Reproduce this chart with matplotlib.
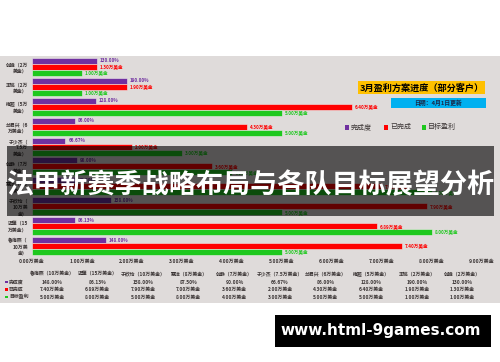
import matplotlib
matplotlib.use('Agg')
import matplotlib.pyplot as plt
from matplotlib.patches import Rectangle
import numpy as np

plt.rcParams['font.family'] = ['Noto Sans CJK SC', 'DejaVu Sans']

# chart order, top to bottom
names = ['创峰', '丰铭', '梅超', '兰君兴', '于少杰', '创静', '慧洋', '于欣怡', '迈肇', '鲁海燕']
budgets = ['2', '2', '5', '6', '7.5', '7', '8', '10', '15', '10']
completion = [130.00, 190.00, 128.00, 86.00, 66.67, 90.00, 87.50, 158.00, 86.13, 148.00]
done = [1.30, 1.90, 6.40, 4.30, 2.00, 3.60, 7.00, 7.90, 6.89, 7.40]
target = [1.00, 1.00, 5.00, 5.00, 3.00, 4.00, 8.00, 5.00, 8.00, 5.00]
xticks = [0, 1, 2, 3, 4, 5, 6, 7, 8, 9]

title = '法甲新赛季战略布局与各队目标展望分析'
box_title = '3月盈利方案进度（部分客户）'
box_date = '日期：4月1日更新'
series_names = ['完成度', '已完成', '目标盈利']
site = 'www.html-9games.com'

purple = '#7030a0'
red = '#ff0000'
green = '#1ec81e'
panel = '#dfdbda'
ink = '#3a3434'

W, H = 500, 362
fig = plt.figure(figsize=(5, 3.62), dpi=100)
fig.patch.set_facecolor('white')

def fx(px):
    return px / W

def fy(py):
    return 1 - py / H

# grey panel behind the chart
fig.patches.append(Rectangle((0, fy(303)), 1, fy(56) - fy(303), transform=fig.transFigure,
                             facecolor=panel, edgecolor='none', zorder=-2))

ax = fig.add_axes([fx(32), fy(256), fx(450), fy(57) - fy(256)])
ax.set_facecolor('none')
for s in ax.spines.values():
    s.set_visible(False)

y = np.arange(len(names))
h = 0.3
ax.barh(y - h, np.array(completion) / 100, height=h, color=purple, edgecolor='#eeeaea', linewidth=0.4)
ax.barh(y, done, height=h, color=red, edgecolor='#eeeaea', linewidth=0.4)
ax.barh(y + h, target, height=h, color=green, edgecolor='#eeeaea', linewidth=0.4)

for i in range(len(names)):
    ax.text(completion[i] / 100 + 0.06, y[i] - h, '%.2f%%' % completion[i], color=purple,
            fontsize=3.3, va='center', ha='left', fontweight='bold')
    ax.text(done[i] + 0.06, y[i], '%.2f万美金' % done[i], color=red,
            fontsize=3.3, va='center', ha='left', fontweight='bold')
    ax.text(target[i] + 0.06, y[i] + h, '%.2f万美金' % target[i], color=green,
            fontsize=3.3, va='center', ha='left', fontweight='bold')

ax.set_xlim(0, 9)
ax.set_ylim(len(names) - 0.5, -0.5)
ax.set_xticks(xticks)
ax.set_xticklabels(['%.2f万美金' % t for t in xticks], fontsize=3.6, color=ink, fontweight='bold')
ax.tick_params(axis='x', length=0, pad=2)
ax.set_yticks(y)
ylabels = []
for n, b in zip(names, budgets):
    s = n + '（' + b + '万美金）'
    ylabels.append(s[:5] + '\n' + s[5:] if len(s) <= 9 else s[:4] + '\n' + s[4:8] + '\n' + s[8:])
ax.set_yticklabels(ylabels, fontsize=3.5, color=ink, fontweight='bold', linespacing=1.3)
ax.tick_params(axis='y', length=0, pad=3)

# data table under the chart (reverse order, like the source sheet)
cols_x = [52 + 45.6 * i for i in range(len(names))]
for j, i in enumerate(range(len(names) - 1, -1, -1)):
    cx = fx(cols_x[j])
    fig.text(cx, fy(274), names[i] + '（' + budgets[i] + '万美金）', fontsize=3.5, color=ink,
             ha='center', va='center', fontweight='bold')
    fig.text(cx, fy(282), '%.2f%%' % completion[i], fontsize=3.5, color=ink,
             ha='center', va='center', fontweight='bold')
    fig.text(cx, fy(289.5), '%.2f万美金' % done[i], fontsize=3.5, color=ink,
             ha='center', va='center', fontweight='bold')
    fig.text(cx, fy(297), '%.2f万美金' % target[i], fontsize=3.5, color=ink,
             ha='center', va='center', fontweight='bold')

for k, (c, lab) in enumerate(zip([purple, red, green], series_names)):
    ry = [282, 289.5, 297][k]
    fig.patches.append(Rectangle((fx(5), fy(ry + 1.3)), fx(2.6), fy(ry - 1.3) - fy(ry + 1.3),
                                 transform=fig.transFigure, facecolor=c, edgecolor='none'))
    fig.text(fx(9), fy(ry), lab, fontsize=3.5, color=ink, ha='left', va='center', fontweight='bold')

# legend on the right
for lx, c, lab in zip([347, 386, 424], [purple, red, green], series_names):
    fig.patches.append(Rectangle((fx(lx - 2), fy(129.5)), fx(4), fy(125) - fy(129.5),
                                 transform=fig.transFigure, facecolor=c, edgecolor='none'))
    fig.text(fx(lx + 4), fy(127), lab, fontsize=5, color=ink, ha='left', va='center')

# title boxes
fig.patches.append(Rectangle((fx(358), fy(94)), fx(127), fy(81) - fy(94), transform=fig.transFigure,
                             facecolor='#ffc000', edgecolor='none'))
fig.text(fx(421.5), fy(87.5), box_title, fontsize=6.6, color='black', ha='center', va='center',
         fontweight='bold')
fig.patches.append(Rectangle((fx(391), fy(108)), fx(95), fy(98) - fy(108), transform=fig.transFigure,
                             facecolor='#00b0f0', edgecolor='none'))
fig.text(fx(438.5), fy(103), box_date, fontsize=4.2, color='#1a2a4a', ha='center', va='center',
         fontweight='bold')

# dark overlay band with the headline
fig.patches.append(Rectangle((fx(7), fy(216)), fx(487), fy(146) - fy(216), transform=fig.transFigure,
                             facecolor='black', alpha=0.62, edgecolor='none', zorder=5))
fig.text(fx(250), fy(185), title, fontsize=19.5, color='white', ha='center', va='center',
         fontweight='bold', zorder=6)

# site banner
fig.patches.append(Rectangle((fx(275), fy(347)), fx(216), fy(315) - fy(347), transform=fig.transFigure,
                             facecolor='black', edgecolor='none', zorder=5))
fig.text(fx(381), fy(331), site, fontsize=11, color='white', ha='center', va='center',
         fontweight='bold', family='DejaVu Sans', zorder=6)

fig.savefig('out.png', dpi=100)
